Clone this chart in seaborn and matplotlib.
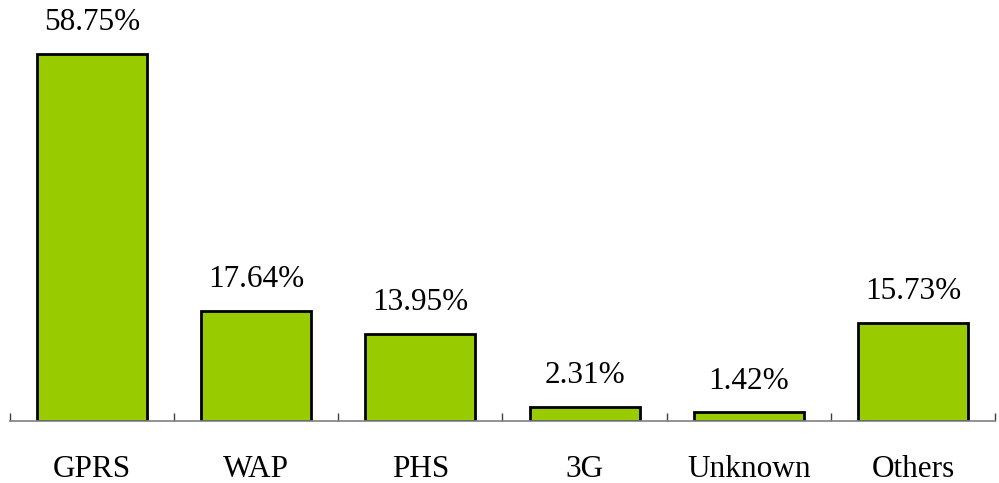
import matplotlib
matplotlib.use("Agg")
import matplotlib.pyplot as plt
import seaborn as sns
import pandas as pd
import numpy as np

categories = ["GPRS", "WAP", "PHS", "3G", "Unknown", "Others"]
shares = [58.75, 17.64, 13.95, 2.31, 1.42, 15.73]
value_labels = ["58.75%", "17.64%", "13.95%", "2.31%", "1.42%", "15.73%"]

df = pd.DataFrame({"category": categories, "share": shares})

sns.set_style("white")
plt.rcParams["font.family"] = ["Liberation Serif", "DejaVu Serif"]
plt.rcParams["text.color"] = "black"
plt.rcParams["xtick.color"] = "black"

fig = plt.figure(figsize=(9.99, 4.83), dpi=100)
ax = fig.add_axes([10 / 999, 62 / 483, 985 / 999, 421 / 483])

sns.barplot(data=df, x="category", y="share", color="#99CC00", width=0.67,
            edgecolor="black", linewidth=2.0, saturation=1, ax=ax)

for patch, text in zip(ax.patches, value_labels):
    ax.annotate(text, (patch.get_x() + patch.get_width() / 2, patch.get_height()),
                xytext=(0, 17), textcoords="offset points",
                ha="center", va="baseline", fontsize=22.5, color="black")

ax.set_xlim(-0.5, len(categories) - 0.5)
ax.set_ylim(0, 67.4)
ax.set_xlabel("")
ax.set_ylabel("")
ax.set_yticks([])

for side in ["left", "right", "top"]:
    ax.spines[side].set_visible(False)
ax.spines["bottom"].set_color("#808080")
ax.spines["bottom"].set_linewidth(1.2)

ax.set_xticks(range(len(categories)))
ax.set_xticklabels(categories, fontsize=22.5, color="black")
ax.set_xticks(np.arange(-0.5, len(categories), 1.0), minor=True)
ax.tick_params(axis="x", which="major", length=0, pad=24.5)
ax.tick_params(axis="x", which="minor", direction="in", length=6,
               width=1, color="#404040", bottom=True)

fig.savefig("out.png", dpi=100)
